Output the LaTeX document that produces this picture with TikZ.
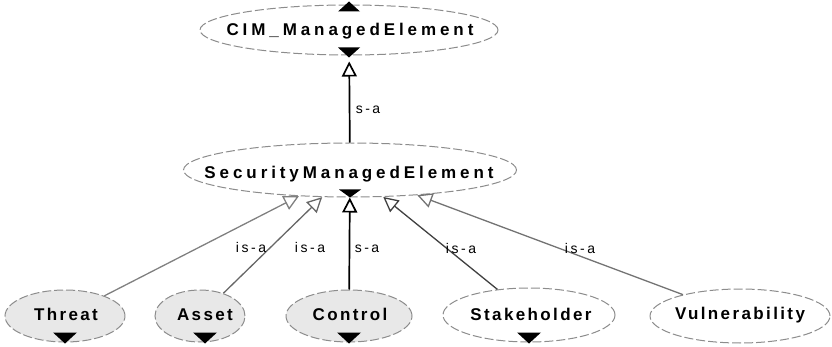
\documentclass[tikz,border=0pt]{standalone}
\usepackage{fontspec}
\setmainfont{Liberation Sans}
\newfontfamily\namefont[LetterSpace=14]{Liberation Sans Bold}
\newfontfamily\widefont[LetterSpace=23]{Liberation Sans Bold}
\newfontfamily\linkfont[LetterSpace=18]{Liberation Sans}
\usetikzlibrary{shapes.geometric,arrows.meta}

\tikzset{
  cls/.style={ellipse, draw=black!45, line width=1pt, dash pattern=on 9pt off 3pt,
              inner sep=0pt, fill=white},
  shaded/.style={cls, fill=gray!18},
  cname/.style={font=\namefont\fontsize{17}{20}\selectfont, inner sep=0pt, anchor=base},
  wname/.style={font=\widefont\fontsize{17}{20}\selectfont, inner sep=0pt, anchor=base},
  isa/.style={-{Triangle[open,length=15pt,width=15pt]}, line width=1.3pt},
  lnk/.style={font=\linkfont\fontsize{14}{16}\selectfont, inner sep=0pt, anchor=base},
}

\begin{document}
\begin{tikzpicture}[x=1pt, y=-1pt]
  \useasboundingbox (0,0) rectangle (832,347);

  % class ellipses
  \node[cls, minimum width=298, minimum height=50] (cim) at (349,30) {};
  \node[cls, minimum width=333, minimum height=54] (sme) at (350,170) {};
  \node[shaded, minimum width=120, minimum height=52] (threat) at (65,316) {};
  \node[shaded, minimum width=90, minimum height=52] (asset) at (200,316) {};
  \node[shaded, minimum width=126, minimum height=52] (control) at (349,316) {};
  \node[cls, minimum width=172, minimum height=54] (stake) at (529,315) {};
  \node[cls, minimum width=180, minimum height=54] (vuln) at (740,316) {};

  % class names (placed on their baselines)
  \node[wname] (cim-t) at (350,36) {CIM\_ManagedElement};
  \node[wname] (sme-t) at (349,178.5) {SecurityManagedElement};
  \node[cname] (threat-t) at (66,320) {Threat};
  \node[cname] (asset-t) at (205,320) {Asset};
  \node[cname] (control-t) at (350,320.5) {Control};
  \node[cname] (stake-t) at (531,320) {Stakeholder};
  \node[cname] (vuln-t) at (740,319.5) {Vulnerability};

  % is-a links
  \draw[isa, black, line width=1.7pt, shorten >=6pt] (sme) -- (cim);
  \draw[isa, black!50] (threat) -- (sme);
  \draw[isa, black!60] (asset) -- (sme);
  \draw[isa, black, line width=1.7pt] (control) -- (sme);
  \draw[isa, black!75] (stake) -- (sme);
  \draw[isa, black!55] (vuln) -- (sme);

  % expand markers
  \fill (cim.north) ++(-11,7) -- ++(22,0) -- ++(-11,-10) -- cycle;
  \fill (cim.south) ++(-11,-8) -- ++(22,0) -- ++(-11,10) -- cycle;
  \fill (sme.south) ++(-11,-8) -- ++(22,0) -- ++(-11,8) -- cycle;
  \fill (threat.south) ++(-12,-10) -- ++(24,0) -- ++(-12,11) -- cycle;
  \fill (asset.south) ++(-7,-10) -- ++(24,0) -- ++(-12,11) -- cycle;
  \fill (control.south) ++(-12,-10) -- ++(24,0) -- ++(-12,11) -- cycle;
  \fill (stake.south) ++(-12,-10) -- ++(24,0) -- ++(-12,11) -- cycle;

  % link labels (placed on their baselines)
  \node[lnk] (l0) at (368,114) {s-a};
  \node[lnk] (l1) at (251,253) {is-a};
  \node[lnk] (l2) at (310,253) {is-a};
  \node[lnk] (l3) at (367,253) {s-a};
  \node[lnk] (l4) at (461,254) {is-a};
  \node[lnk] (l5) at (580,254) {is-a};
\end{tikzpicture}
\end{document}
